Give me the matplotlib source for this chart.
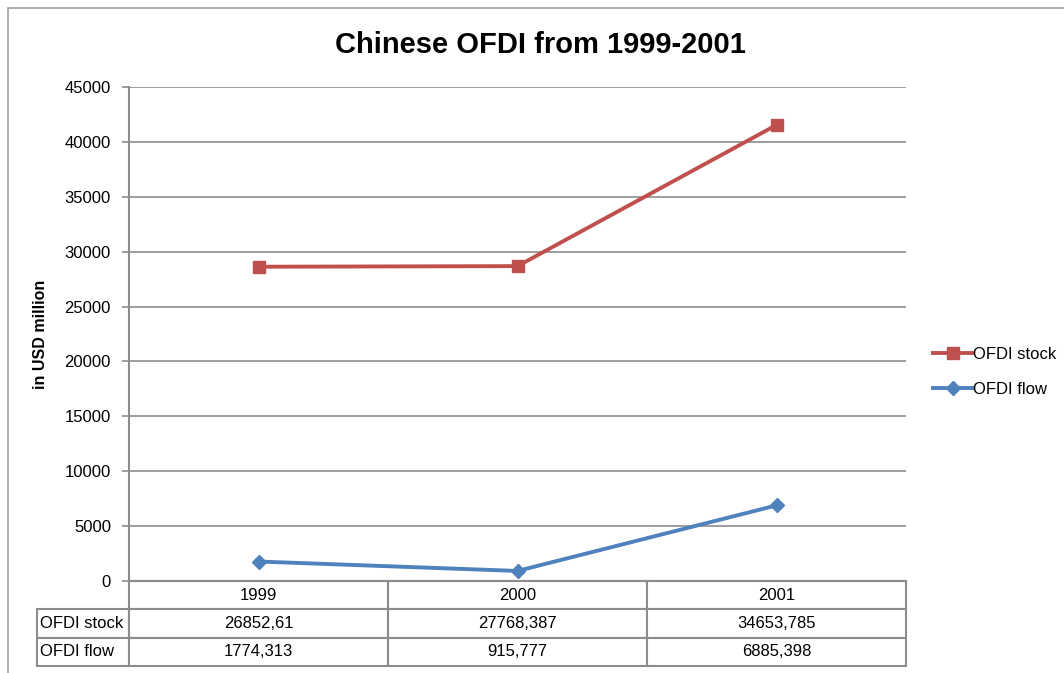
import matplotlib.pyplot as plt
from matplotlib.patches import Rectangle
import numpy as np

plt.rcParams["font.family"] = ["Liberation Sans", "DejaVu Sans"]

years = ["1999", "2000", "2001"]
ofdi_stock = [26852.61, 27768.387, 34653.785]
ofdi_flow = [1774.313, 915.777, 6885.398]

RED = "#C0504D"
BLUE = "#4F81BD"
GRID = "#8c8c8c"

fig = plt.figure(figsize=(10.64, 6.73), dpi=100)
W, H = 1064, 673

# outer chart frame
fig.patches.append(Rectangle((8 / W, -0.1), 1.2, 1 - 8 / H + 0.1, transform=fig.transFigure,
                             fill=False, edgecolor="#a0a0a0", linewidth=1.2))

ax = fig.add_axes([129 / W, 1 - 581 / H, 777 / W, 494 / H])

x = np.arange(len(years))
flow = np.array(ofdi_flow)
# stacked lines: stock series sits on top of flow
stock_stacked = flow + np.array(ofdi_stock)

ax.plot(x, stock_stacked, color=RED, lw=2.8, marker="s", markersize=9, label="OFDI stock",
        zorder=3)
ax.plot(x, flow, color=BLUE, lw=2.8, marker="D", markersize=7, label="OFDI flow", zorder=3)

ax.set_xlim(-0.5, 2.5)
ax.set_ylim(0, 45000)
ax.set_yticks(np.arange(0, 45001, 5000))
ax.set_yticklabels([f"{v}" for v in range(0, 45001, 5000)], fontsize=12)
ax.set_xticks([])
ax.grid(axis="y", color=GRID, linewidth=1.2)
ax.set_axisbelow(True)
for side in ["top", "right"]:
    ax.spines[side].set_visible(False)
ax.spines["left"].set_color(GRID)
ax.spines["left"].set_linewidth(1.5)
ax.spines["bottom"].set_color(GRID)
ax.spines["bottom"].set_linewidth(1.5)
ax.tick_params(axis="y", length=5, width=1.2, color=GRID, pad=8)

ax.set_ylabel("in USD million", fontsize=11.5, fontweight="bold", labelpad=12)
fig.text(540 / W, 1 - 45 / H, "Chinese OFDI from 1999-2001", fontsize=21, fontweight="bold",
         ha="center", va="center")

# data table under the plot
fmt = lambda v: str(v).replace(".", ",")
cell_text = [["OFDI stock"] + [fmt(v) for v in ofdi_stock],
             ["OFDI flow"] + [fmt(v) for v in ofdi_flow]]
row_label_w = (129 - 37) / 777
tbl = ax.table(cellText=cell_text, colLabels=[""] + years,
               colWidths=[row_label_w, 1 / 3, 1 / 3, 1 / 3],
               cellLoc="center", bbox=[-row_label_w, -85 / 494, 1 + row_label_w, 85 / 494])
tbl.auto_set_font_size(False)
tbl.set_fontsize(12)
for (r, c), cell in tbl.get_celld().items():
    cell.set_edgecolor(GRID)
    cell.set_linewidth(1.5)
    if c == 0:
        cell.get_text().set_ha("left")
        cell.PAD = 0.03
    if r == 0 and c == 0:
        cell.visible_edges = ""

ax.legend(loc="center left", bbox_to_anchor=(1.015, 0.423), frameon=False, fontsize=12,
          handlelength=2.4, handletextpad=0.0, labelspacing=1.2)

fig.savefig("out.png", dpi=100)
